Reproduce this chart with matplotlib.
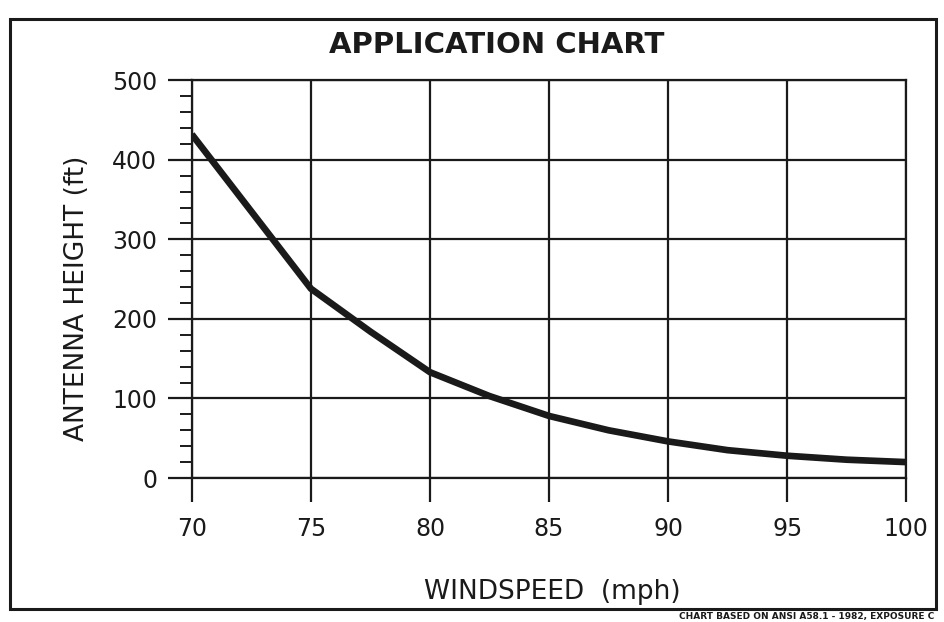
import numpy as np
import matplotlib.pyplot as plt
from matplotlib.patches import Rectangle
from matplotlib.ticker import MultipleLocator

# Werte
windspeed = [70, 72.5, 75, 77.5, 80, 82.5, 85, 87.5, 90, 92.5, 95, 97.5, 100]
height_ft = [432, 335, 238, 184, 133, 103, 78, 60, 46, 35, 28, 23, 20]

x_ticks = [70, 75, 80, 85, 90, 95, 100]
y_ticks = [0, 100, 200, 300, 400, 500]

plt.rcParams['font.family'] = ['DejaVu Sans']
ink = '#1a1a1a'

fig = plt.figure(figsize=(9.45, 6.22), dpi=100)
ax = fig.add_axes([0.203, 0.2315, 0.756, 0.6395])

ax.plot(windspeed, height_ft, color=ink, lw=4.8, solid_capstyle='butt')

ax.set_xlim(70, 100)
ax.set_ylim(0, 500)
ax.set_xticks(x_ticks)
ax.set_yticks(y_ticks)
ax.yaxis.set_minor_locator(MultipleLocator(20))
ax.grid(True, which='major', color=ink, lw=1.6)
for s in ax.spines.values():
    s.set_color(ink)
    s.set_linewidth(1.6)

ax.tick_params(axis='both', which='major', length=17, width=1.6, color=ink,
               labelsize=17, pad=8)
ax.tick_params(axis='y', which='minor', length=9, width=1.4, color=ink)
ax.tick_params(axis='x', pad=11)
for lab in ax.get_xticklabels() + ax.get_yticklabels():
    lab.set_color(ink)

fig.text(0.526, 0.928, 'APPLICATION CHART', ha='center', va='center',
         fontsize=21, fontweight='bold', color=ink)
fig.text(0.081, 0.521, 'ANTENNA HEIGHT (ft)', ha='center', va='center',
         rotation=90, fontsize=19, color=ink)
fig.text(0.584, 0.049, 'WINDSPEED  (mph)', ha='center', va='center',
         fontsize=19, color=ink)

# Rahmen um das ganze Blatt
fig.patches.append(Rectangle((0.011, 0.021), 0.98, 0.948, transform=fig.transFigure,
                             fill=False, edgecolor=ink, lw=2.2))
fig.text(0.989, 0.002, 'CHART BASED ON ANSI A58.1 - 1982, EXPOSURE C',
         ha='right', va='bottom', fontsize=6.5, fontweight='bold', color=ink)

fig.savefig('out.png', dpi=100)
